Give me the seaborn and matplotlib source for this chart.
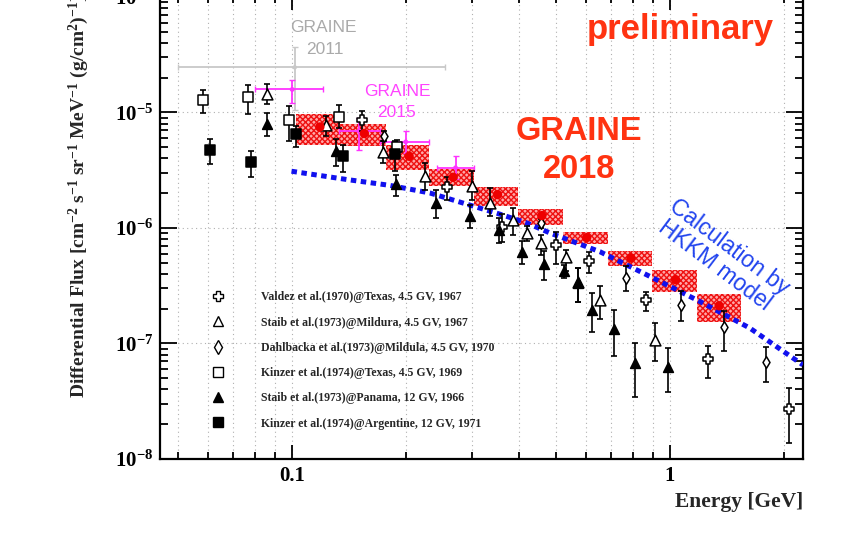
import numpy as np
import pandas as pd
import seaborn as sns
import matplotlib
matplotlib.use('Agg')
import matplotlib.pyplot as plt
from matplotlib.lines import Line2D
from matplotlib.patches import Rectangle
from matplotlib.ticker import LogLocator, FuncFormatter, NullFormatter, FixedLocator

# ---------------- data ----------------
valdez_E = [0.153, 0.257, 0.359, 0.499, 0.611, 0.864, 1.258, 2.068]
valdez_F = [8.58e-6, 2.27e-6, 1.03e-6, 7.13e-7, 5.21e-7, 2.36e-7, 7.32e-8, 2.71e-8]
valdez_lo = [6.89e-6, 1.76e-6, 7.61e-7, 4.91e-7, 4.08e-7, 1.92e-7, 5.04e-8, 1.37e-8]
valdez_hi = [1.03e-5, 2.79e-6, 1.31e-6, 9.17e-7, 6.15e-7, 2.79e-7, 9.55e-8, 4.10e-8]

mildura_E = [0.0862, 0.1235, 0.1744, 0.2244, 0.3003, 0.3342, 0.3849, 0.4184, 0.4549, 0.5307, 0.5701, 0.6527, 0.9144]
mildura_F = [1.447e-5, 7.72e-6, 4.59e-6, 2.84e-6, 2.33e-6, 1.649e-6, 1.181e-6, 9.02e-7, 7.42e-7, 5.61e-7, 3.43e-7, 2.39e-7, 1.076e-7]
mildura_lo = [1.173e-5, 6.23e-6, 3.66e-6, 2.15e-6, 1.76e-6, 1.262e-6, 8.76e-7, 7.66e-7, 5.87e-7, 4.21e-7, 2.31e-7, 1.627e-7, 7.08e-8]
mildura_hi = [1.774e-5, 9.29e-6, 5.64e-6, 3.66e-6, 3.10e-6, 2.24e-6, 1.501e-6, 1.033e-6, 8.76e-7, 6.49e-7, 4.53e-7, 3.16e-7, 1.502e-7]

dahl_E = [0.1753, 0.4549, 0.765, 1.069, 1.392, 1.795]
dahl_F = [6.23e-6, 1.106e-6, 3.69e-7, 2.164e-7, 1.376e-7, 6.98e-8]
dahl_lo = [5.64e-6, 1.0e-6, 2.82e-7, 1.551e-7, 8.64e-8, 4.68e-8]
dahl_hi = [6.89e-6, 1.2e-6, 4.65e-7, 2.82e-7, 1.893e-7, 9.41e-8]

kinzerT_E = [0.0581, 0.0766, 0.0984, 0.1329, 0.1896]
kinzerT_F = [1.271e-5, 1.358e-5, 8.53e-6, 9.14e-6, 5.07e-6]
kinzerT_lo = [9.94e-6, 9.75e-6, 5.64e-6, 7.37e-6, 4.4e-6]
kinzerT_hi = [1.552e-5, 1.725e-5, 1.134e-5, 1.157e-5, 5.8e-6]

panama_E = [0.0862, 0.1305, 0.1888, 0.2404, 0.2952, 0.3535, 0.4071, 0.4650, 0.526, 0.5701, 0.6229, 0.7109, 0.808, 0.9897]
panama_F = [8.03e-6, 4.66e-6, 2.41e-6, 1.649e-6, 1.28e-6, 9.68e-7, 6.15e-7, 4.89e-7, 4.21e-7, 3.34e-7, 1.959e-7, 1.332e-7, 6.76e-8, 6.31e-8]
panama_lo = [6.32e-6, 3.42e-6, 1.881e-6, 1.222e-6, 1.001e-6, 7.42e-7, 4.88e-7, 3.57e-7, 3.7e-7, 2.27e-7, 1.27e-7, 7.86e-8, 3.47e-8, 3.79e-8]
panama_hi = [9.94e-6, 5.92e-6, 2.90e-6, 2.13e-6, 1.594e-6, 1.222e-6, 7.66e-7, 6.36e-7, 4.8e-7, 4.50e-7, 2.73e-7, 1.932e-7, 1.007e-7, 9.12e-8]

kinzerA_E = [0.0607, 0.0779, 0.1023, 0.1367, 0.188]
kinzerA_F = [4.78e-6, 3.71e-6, 6.45e-6, 4.18e-6, 4.41e-6]
kinzerA_lo = [3.59e-6, 2.75e-6, 5.0e-6, 3.06e-6, 3.10e-6]
kinzerA_hi = [5.92e-6, 4.68e-6, 7.61e-6, 5.28e-6, 5.64e-6]

g2011_E = [0.1018]
g2011_Elo = [0.05]
g2011_Ehi = [0.254]
g2011_F = [2.46e-5]
g2011_lo = [1.06e-5]
g2011_hi = [3.66e-5]

g2015_E = [0.1002, 0.1504, 0.2002, 0.2711]
g2015_Elo = [0.0798, 0.1331, 0.1709, 0.2415]
g2015_Ehi = [0.1206, 0.1714, 0.2304, 0.3030]
g2015_F = [1.583e-5, 6.89e-6, 5.57e-6, 3.32e-6]
g2015_lo = [1.214e-5, 4.78e-6, 4.47e-6, 2.63e-6]
g2015_hi = [1.895e-5, 9.00e-6, 6.89e-6, 4.18e-6]

g2018_E = [0.1186, 0.1555, 0.2043, 0.2672, 0.35, 0.4585, 0.6022, 0.7887, 1.0354, 1.35]
g2018_F = [7.49e-6, 6.58e-6, 4.18e-6, 2.75e-6, 1.946e-6, 1.28e-6, 8.25e-7, 5.50e-7, 3.57e-7, 2.12e-7]
g2018_edges = [0.1025, 0.1339, 0.1773, 0.2304, 0.3030, 0.3973, 0.5221, 0.6842, 0.8945, 1.1766, 1.538]
g2018_syslo = [5.28e-6, 5.10e-6, 3.16e-6, 2.30e-6, 1.563e-6, 1.054e-6, 7.27e-7, 4.65e-7, 2.77e-7, 1.52e-7]
g2018_syshi = [9.61e-6, 8.03e-6, 5.18e-6, 3.21e-6, 2.27e-6, 1.471e-6, 9.17e-7, 6.36e-7, 4.29e-7, 2.70e-7]

hkkm_E = [0.0998, 0.1396, 0.1816, 0.2318, 0.2958, 0.355, 0.4184, 0.4815, 0.6527, 0.8854, 1.2006, 1.628, 2.248]
hkkm_F = [3.10e-6, 2.63e-6, 2.34e-6, 2.01e-6, 1.578e-6, 1.318e-6, 1.106e-6, 9.06e-7, 6.24e-7, 3.81e-7, 2.31e-7, 1.359e-7, 6.53e-8]

legend_labels = [
    "Valdez et al.(1970)@Texas, 4.5 GV, 1967",
    "Staib et al.(1973)@Mildura, 4.5 GV, 1967",
    "Dahlbacka et al.(1973)@Mildula, 4.5 GV, 1970",
    "Kinzer et al.(1974)@Texas, 4.5 GV, 1969",
    "Staib et al.(1973)@Panama, 12 GV, 1966",
    "Kinzer et al.(1974)@Argentine, 12 GV, 1971",
]
x_tick_values = [0.1, 1]
x_tick_labels = ["0.1", "1"]

# ---------------- style ----------------
sns.set_style('ticks')
plt.rcParams['font.family'] = ['Liberation Serif', 'DejaVu Serif']
plt.rcParams['mathtext.fontset'] = 'custom'
plt.rcParams['mathtext.rm'] = 'Liberation Serif:bold'
plt.rcParams['mathtext.it'] = 'Liberation Serif:bold:italic'
plt.rcParams['mathtext.bf'] = 'Liberation Serif:bold'
plt.rcParams['hatch.linewidth'] = 1.0

W, H = 844, 534
fig = plt.figure(figsize=(W / 100, H / 100), dpi=100)
ax = fig.add_axes([160 / W, 75 / H, 643 / W, 463 / H])
ax.set_xscale('log')
ax.set_yscale('log')
ax.set_xlim(0.0448, 2.25)
ax.set_ylim(1e-8, 1.02e-4)

# grid
ax.grid(True, which='major', axis='both', ls=(0, (1, 3)), color='#b0b0b0', lw=0.8)
ax.grid(True, which='minor', axis='x', ls=(0, (1, 3)), color='#b0b0b0', lw=0.8)
ax.set_axisbelow(True)

# ---------------- GRAINE 2018 systematic boxes ----------------
for i in range(len(g2018_E)):
    r = Rectangle((g2018_edges[i], g2018_syslo[i]),
                  g2018_edges[i + 1] - g2018_edges[i],
                  g2018_syshi[i] - g2018_syslo[i],
                  facecolor='#ffa8a8', edgecolor='#ee1111', hatch='xxxxxx', lw=0, zorder=2)
    ax.add_patch(r)

# ---------------- HKKM model ----------------
sns.lineplot(x=hkkm_E, y=hkkm_F, ax=ax, color='#1111ee', lw=3.6, linestyle=(0, (1.1, 0.9)),
             dash_capstyle='butt', zorder=3, estimator=None, sort=False)

# ---------------- GRAINE 2011 / 2015 ----------------
def asym(F, lo, hi):
    F = np.array(F); return [F - np.array(lo), np.array(hi) - F]

ax.errorbar(g2011_E, g2011_F, yerr=asym(g2011_F, g2011_lo, g2011_hi),
            xerr=asym(g2011_E, g2011_Elo, g2011_Ehi), fmt='none', ecolor='#c8c8c8',
            elinewidth=1.3, capsize=2.5, zorder=2)
sns.scatterplot(x=g2011_E, y=g2011_F, ax=ax, color='#c8c8c8', s=10, edgecolor='none', zorder=2)

ax.errorbar(g2015_E, g2015_F, yerr=asym(g2015_F, g2015_lo, g2015_hi),
            xerr=asym(g2015_E, g2015_Elo, g2015_Ehi), fmt='none', ecolor='#ff33ff',
            elinewidth=1.3, capsize=2.5, zorder=4)
sns.scatterplot(x=g2015_E, y=g2015_F, ax=ax, color='#ff33ff', s=12, edgecolor='none', zorder=4)

# ---------------- old measurements ----------------
series = [
    (valdez_E, valdez_F, valdez_lo, valdez_hi, 'P', 'white', 55, legend_labels[0]),
    (mildura_E, mildura_F, mildura_lo, mildura_hi, '^', 'white', 60, legend_labels[1]),
    (dahl_E, dahl_F, dahl_lo, dahl_hi, 'd', 'white', 35, legend_labels[2]),
    (kinzerT_E, kinzerT_F, kinzerT_lo, kinzerT_hi, 's', 'white', 55, legend_labels[3]),
    (panama_E, panama_F, panama_lo, panama_hi, '^', 'black', 50, legend_labels[4]),
    (kinzerA_E, kinzerA_F, kinzerA_lo, kinzerA_hi, 's', 'black', 50, legend_labels[5]),
]
handles = []
for E, F, lo, hi, mk, fc, s, lab in series:
    ax.errorbar(E, F, yerr=asym(F, lo, hi), fmt='none', ecolor='black', elinewidth=1.2,
                capsize=2.5, capthick=1.2, zorder=5)
    df = pd.DataFrame({'E': E, 'F': F})
    sns.scatterplot(data=df, x='E', y='F', ax=ax, marker=mk, color=fc, edgecolor='black',
                    linewidth=1.1, s=s, zorder=6)
    handles.append(Line2D([], [], ls='none', marker=mk, markerfacecolor=fc,
                          markeredgecolor='black', markeredgewidth=1.0, markersize=7))

# ---------------- GRAINE 2018 points ----------------
sns.scatterplot(x=g2018_E, y=g2018_F, ax=ax, color='#ee0000', s=45, edgecolor='none', zorder=7)

# ---------------- axes styling ----------------
for sp in ax.spines.values():
    sp.set_linewidth(1.6)
    sp.set_color('black')
ax.tick_params(which='both', direction='in', top=True, right=True, width=1.3, colors='black')
ax.tick_params(which='major', length=10)
ax.tick_params(which='minor', length=5)
ax.tick_params(axis='y', which='major', length=12)
ax.tick_params(axis='y', which='minor', length=6)

ax.xaxis.set_major_locator(FixedLocator(x_tick_values))
ax.xaxis.set_major_formatter(FuncFormatter(lambda v, p: x_tick_labels[x_tick_values.index(v)] if v in x_tick_values else ''))
ax.xaxis.set_minor_locator(LogLocator(base=10, subs=np.arange(2, 10), numticks=20))
ax.xaxis.set_minor_formatter(NullFormatter())
ax.yaxis.set_major_locator(LogLocator(base=10, numticks=20))
ax.yaxis.set_major_formatter(FuncFormatter(lambda v, p: r'$10^{%d}$' % int(round(np.log10(v)))))
ax.yaxis.set_minor_locator(LogLocator(base=10, subs=np.arange(2, 10), numticks=20))
ax.yaxis.set_minor_formatter(NullFormatter())
ax.tick_params(axis='x', labelsize=15, pad=5)
ax.tick_params(axis='y', labelsize=15, pad=5)
for lab in ax.get_xticklabels():
    lab.set_fontweight('bold')

ax.set_xlabel('Energy [GeV]', fontsize=15.5, fontweight='bold', loc='right', labelpad=4)
ax.set_ylabel('')
fig.text(79 / W, 1 - 398 / H,
         r'Differential Flux [cm$^{-2}$ s$^{-1}$ sr$^{-1}$ MeV$^{-1}$ (g/cm$^{2}$)$^{-1}$]',
         rotation=90, ha='center', va='bottom', fontsize=14, fontweight='bold')

# ---------------- legend ----------------
leg = ax.legend(handles, legend_labels, loc='upper left', bbox_to_anchor=(0.0715, 0.362),
                frameon=False, prop={'family': 'Liberation Serif', 'weight': 'bold', 'size': 8.5},
                handlelength=2.0, handletextpad=2.7, labelspacing=1.12, borderpad=0, borderaxespad=0)

# ---------------- annotations ----------------
sans = ['Liberation Sans', 'DejaVu Sans']
def ftext(x, y, s, **kw):
    fig.text(x / W, 1 - y / H, s, ha='center', va='center', family=sans, **kw)

ftext(680, 30, 'preliminary', color='#ff3311', fontsize=25, fontweight='bold')
ftext(579, 132, 'GRAINE', color='#ff3311', fontsize=23.5, fontweight='bold')
ftext(579, 170, '2018', color='#ff3311', fontsize=23.5, fontweight='bold')
ftext(397, 92, 'GRAINE', color='#ff44ff', fontsize=12.5)
ftext(397, 112, '2015', color='#ff44ff', fontsize=12.5)
ftext(323, 28, 'GRAINE', color='#aaaaaa', fontsize=12.5)
ftext(325, 49, '2011', color='#aaaaaa', fontsize=12.5)
ftext(722, 256, 'Calculation by\nHKKM model', color='#2244ee', fontsize=16.5, rotation=-37,
      multialignment='center', linespacing=1.0)

fig.savefig('out.png', dpi=100)
